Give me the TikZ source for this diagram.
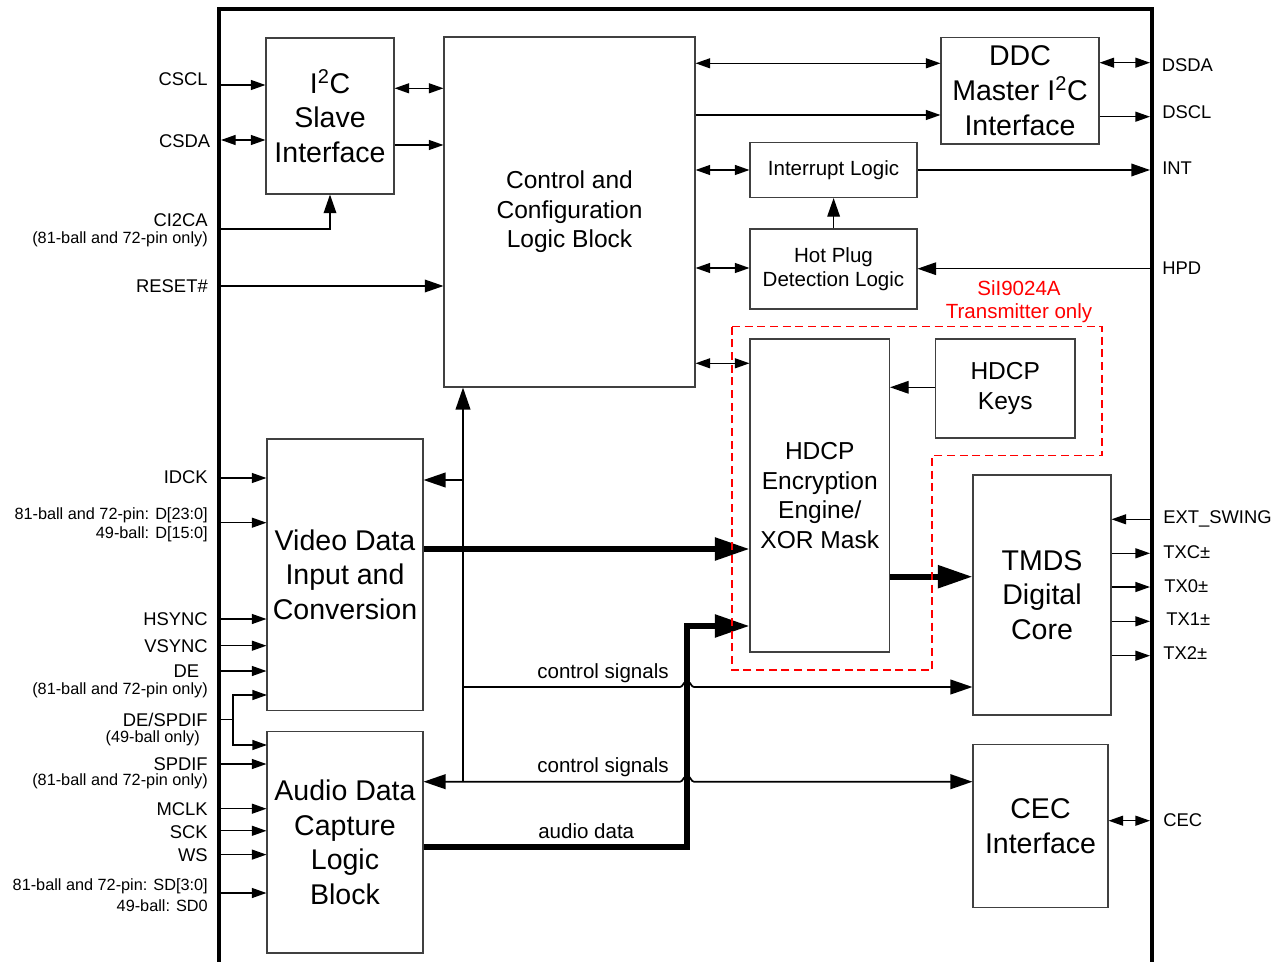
\documentclass[tikz,border=0pt]{standalone}
\usepackage{fontspec}
\setmainfont{Liberation Sans}
\usetikzlibrary{arrows.meta,calc}
\tikzset{
  sa/.tip={Triangle[length=11pt,width=7.5pt]},
  ma/.tip={Triangle[length=14pt,width=9.5pt]},
  la/.tip={Triangle[length=16.5pt,width=11pt]},
  ba/.tip={Triangle[length=26pt,width=16.5pt]},
}
\begin{document}
\begin{tikzpicture}[x=0.75pt,y=-0.75pt,
  box/.style={draw=black!75,line width=0.8pt,inner sep=0pt,align=center,fill=white},
  sz/.style args={#1x#2}{minimum width=#1*0.75pt,minimum height=#2*0.75pt},
  big/.style={font=\fontsize{21.4}{26}\selectfont},
  hd/.style={font=\fontsize{18.4}{22.3}\selectfont},
  ctl/.style={font=\fontsize{18.4}{22.2}\selectfont},
  med/.style={font=\fontsize{15.4}{18.2}\selectfont},
  lbl/.style={font=\fontsize{13.8}{16}\selectfont,inner sep=0pt},
  tiny/.style={font=\fontsize{12.2}{14.5}\selectfont,inner sep=0pt},
  captxt/.style={font=\fontsize{15.4}{18.2}\selectfont,inner sep=0pt},
  conn/.style={line width=1pt},
  cs/.style={line width=1.3pt},
  fat/.style={line width=4.2pt,line join=miter},
  chip/.style={line width=3pt,line join=miter},
  note/.style={draw=red,line width=0.9pt,dash pattern=on 6pt off 3.5pt},
]
\useasboundingbox (0,0) rectangle (1280,962);

% chip outline
\draw[chip] (219,962) -- (219,9) -- (1152,9) -- (1152,962);

% blocks
\node[box,ctl,sz=251x350] (ctrl) at (569.5,212) {Control and\\Configuration\\Logic Block};
\node[box,big,sz=128x156] (i2c) at (330,116) {I\textsuperscript{2}C\\Slave\\Interface};
\node[box,big,sz=158x106.5] (ddc) at (1020,90.75) {DDC\\Master I\textsuperscript{2}C\\Interface};
\node[box,med,sz=167x55] (il) at (833.5,170) {Interrupt Logic};
\node[box,med,sz=167x80] (hp) at (833.5,269) {Hot Plug\\Detection Logic};
\node[box,hd,sz=139.5x313] (hdcp) at (819.75,495.5) {HDCP\\Encryption\\Engine/\\XOR Mask};
\node[box,hd,sz=139.5x99] (keys) at (1005.25,388.5) {HDCP\\Keys};
\node[box,big,sz=156x271.5] (video) at (345,574.75) {Video Data\\Input and\\Conversion};
\node[box,big,sz=156x221.5] (audio) at (345,842.25) {Audio Data\\Capture\\Logic\\Block};
\node[box,big,sz=138x240] (tmds) at (1042,595) {TMDS\\Digital\\Core};
\node[box,big,sz=135x163] (cec) at (1040.5,826) {CEC\\Interface};

% left pin labels
\node[lbl,anchor=east] (lCSCL) at (208,79.5) {CSCL};
\node[lbl,anchor=east] (lCSDA) at (210.5,140.7) {CSDA};
\node[lbl,anchor=east] (lCI2CA) at (208,220) {CI2CA};
\node[tiny,anchor=east] (lCI2CAb) at (208,239) {(81-ball and 72-pin only)};
\node[lbl,anchor=east] (lRESET) at (208,285.7) {RESET\#};
\node[lbl,anchor=east] (lIDCK) at (208,477) {IDCK};
\node[tiny,anchor=east] (lDa) at (208,515) {81-ball and 72-pin: D[23:0]};
\node[tiny,anchor=east] (lDb) at (208,534.6) {49-ball: D[15:0]};
\node[lbl,anchor=east] (lHS) at (208,619.5) {HSYNC};
\node[lbl,anchor=east] (lVS) at (208,645.7) {VSYNC};
\node[lbl,anchor=east] (lDE) at (199.5,671.5) {DE};
\node[tiny,anchor=east] (lDEb) at (208,690) {(81-ball and 72-pin only)};
\node[lbl,anchor=east] (lDESP) at (208,719.7) {DE/SPDIF};
\node[tiny,anchor=east] (lDESPb) at (200,738) {(49-ball only)};
\node[lbl,anchor=east] (lSPDIF) at (208,764) {SPDIF};
\node[tiny,anchor=east] (lSPDIFb) at (208,781) {(81-ball and 72-pin only)};
\node[lbl,anchor=east] (lMCLK) at (208,808.7) {MCLK};
\node[lbl,anchor=east] (lSCK) at (208,832.5) {SCK};
\node[lbl,anchor=east] (lWS) at (208,855) {WS};
\node[tiny,anchor=east] (lSDa) at (208,885.8) {81-ball and 72-pin: SD[3:0]};
\node[tiny,anchor=east] (lSDb) at (208,905.5) {49-ball: SD0};

% right pin labels
\node[lbl,anchor=west] (lDSDA) at (1161.5,65) {DSDA};
\node[lbl,anchor=west] (lDSCL) at (1162,111.7) {DSCL};
\node[lbl,anchor=west] (lINT) at (1162,168) {INT};
\node[lbl,anchor=west] (lHPD) at (1162,268) {HPD};
\node[lbl,anchor=west] (lEXT) at (1163,519) {EXT\_SWING};
\node[lbl,anchor=west] (lTXC) at (1163,551.7) {TXC±};
\node[lbl,anchor=west] (lTX0) at (1164,586) {TX0±};
\node[lbl,anchor=west] (lTX1) at (1166,619.3) {TX1±};
\node[lbl,anchor=west] (lTX2) at (1163,653.3) {TX2±};
\node[lbl,anchor=west] (lCEC) at (1163,820) {CEC};

% inner labels
\node[captxt,red] (n1) at (1019,288.3) {SiI9024A};
\node[captxt,red] (n2) at (1019,313.3) {Transmitter only};
\node[captxt] (cs1) at (603,673) {control signals};
\node[captxt] (cs2) at (603,766.7) {control signals};
\node[captxt,anchor=west] (ad) at (538,830.7) {audio data};

% pins
\coordinate (pCSCL) at (219,85);
\coordinate (pCSDA) at (221,140);
\coordinate (pCI2CA) at (219,229);
\coordinate (pRESET) at (219,286);
\coordinate (pIDCK) at (219,478);
\coordinate (pD) at (219,522.7);
\coordinate (pHS) at (219,619);
\coordinate (pVS) at (219,645.7);
\coordinate (pDE) at (219,671);
\coordinate (pDESP) at (219,719.4);
\coordinate (jDE) at (233,719.4);
\coordinate (dv) at (267,695);
\coordinate (da) at (267,745);
\coordinate (pSPDIF) at (219,764);
\coordinate (pMCLK) at (219,808.7);
\coordinate (pSCK) at (219,830.8);
\coordinate (pWS) at (219,854.6);
\coordinate (pSD) at (219,893);
\coordinate (pDSDA) at (1150,62.7);
\coordinate (pDSCL) at (1150,116.7);
\coordinate (pINT) at (1150,170);
\coordinate (pHPD) at (1152,268.7);
\coordinate (pEXT) at (1152,519.3);
\coordinate (pTXC) at (1150,553.3);
\coordinate (pTX0) at (1150,587);
\coordinate (pTX1) at (1150,621.3);
\coordinate (pTX2) at (1150,655.7);
\coordinate (pCEC) at (1150,820.7);
\coordinate (bus) at (463,781.7);

% left inputs
\draw[conn,-sa] (pCSCL) -- (pCSCL -| i2c.west);
\draw[conn,sa-sa] (pCSDA) -- (pCSDA -| i2c.west);
\draw[conn,-ma] (pCI2CA) -| (i2c.south);
\draw[conn,-ma] (pRESET) -- (pRESET -| ctrl.west);
\draw[conn,-sa] (pIDCK) -- (pIDCK -| video.west);
\draw[conn,-sa] (pD) -- (pD -| video.west);
\draw[conn,-sa] (pHS) -- (pHS -| video.west);
\draw[conn,-sa] (pVS) -- (pVS -| video.west);
\draw[conn,-sa] (pDE) -- (pDE -| video.west);
\draw[conn] (pDESP) -- (jDE);
\draw[conn,-sa] (jDE) |- (dv);
\draw[conn,-sa] (jDE) |- (da);
\draw[conn,-sa] (pSPDIF) -- (pSPDIF -| audio.west);
\draw[conn,-sa] (pMCLK) -- (pMCLK -| audio.west);
\draw[conn,-sa] (pSCK) -- (pSCK -| audio.west);
\draw[conn,-sa] (pWS) -- (pWS -| audio.west);
\draw[conn,-sa] (pSD) -- (pSD -| audio.west);

% I2C to control
\draw[conn,sa-sa] (i2c.east |- 0,88.3) -- (ctrl.west |- 0,88.3);
\draw[conn,-sa] (i2c.east |- 0,145) -- (ctrl.west |- 0,145);

% control to right blocks
\draw[conn,sa-sa] (ctrl.east |- 0,63.3) -- (ddc.west |- 0,63.3);
\draw[conn,-sa] (ctrl.east |- 0,115) -- (ddc.west |- 0,115);
\draw[conn,sa-sa] (ctrl.east |- il.west) -- (il.west);
\draw[conn,sa-sa] (ctrl.east |- 0,268) -- (hp.west |- 0,268);
\draw[conn,sa-sa] (ctrl.east |- 0,363.3) -- (hdcp.west |- 0,363.3);
\draw[conn,-ma] (833.6,0 |- hp.north) -- (833.6,0 |- il.south);
\draw[conn,-ma] (keys.west |- 0,387.3) -- (hdcp.east |- 0,387.3);

% right pins
\draw[conn,sa-sa] (ddc.east |- pDSDA) -- (pDSDA);
\draw[conn,-sa] (ddc.east |- pDSCL) -- (pDSCL);
\draw[conn,-ma] (il.east |- pINT) -- (pINT);
\draw[conn,-ma] (pHPD) -- (pHPD -| hp.east);
\draw[conn,-sa] (pEXT) -- (pEXT -| tmds.east);
\draw[conn,-sa] (tmds.east |- pTXC) -- (pTXC);
\draw[conn,-sa] (tmds.east |- pTX0) -- (pTX0);
\draw[conn,-sa] (tmds.east |- pTX1) -- (pTX1);
\draw[conn,-sa] (tmds.east |- pTX2) -- (pTX2);
\draw[conn,sa-sa] (cec.east |- pCEC) -- (pCEC);

% bus and control signals
\draw[cs,-la] (bus) -- (bus |- ctrl.south);
\draw[cs,-la] (bus |- 0,480) -- (video.east |- 0,480);
\draw[cs,-la] (bus |- 0,687) -- (680,687)
  .. controls (683,687) and (683,682) .. (686,682) -- (688,682)
  .. controls (691,682) and (691,687) .. (694,687) -- (tmds.west |- 0,687);
\draw[cs,la-la] (audio.east |- bus) -- (680,781.7)
  .. controls (683,781.7) and (683,776.7) .. (686,776.7) -- (688,776.7)
  .. controls (691,776.7) and (691,781.7) .. (694,781.7) -- (cec.west |- bus);

% data paths
\draw[fat,-ba] (video.east |- 0,549) -- (hdcp.west |- 0,549);
\draw[fat,-ba] (hdcp.east |- 0,576.7) -- (tmds.west |- 0,576.7);
\draw[fat,-ba] (audio.east |- 0,847) -- (687,847) -- (687,626) -- (hdcp.west |- 0,626);

% SiI9024A region
\draw[note] (732,326.7) -- (1102,326.7) -- (1102,455.7) -- (932,455.7) -- (932,670) -- (732,670) -- cycle;
\end{tikzpicture}
\end{document}
